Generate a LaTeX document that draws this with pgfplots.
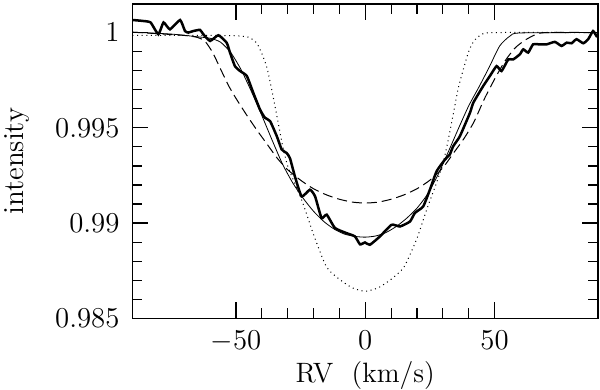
\documentclass[border=0pt]{standalone}
\usepackage{pgfplots}
\pgfplotsset{compat=1.18}
\begin{document}
\begin{tikzpicture}
\useasboundingbox (-66.25pt,-35.85pt) rectangle (233.75pt,159.15pt);
\begin{axis}[
  at={(0,0)}, anchor=south west,
  scale only axis, width=232.75pt, height=157.15pt,
  xmin=-90, xmax=90, ymin=0.985, ymax=1.0015,
  xtick={-50,0,50}, xticklabels={$-50$,$0$,$50$},
  ytick={0.985,0.99,0.995,1}, yticklabels={$0.985$,$0.99$,$0.995$,$1$},
  scaled y ticks=false,
  minor x tick num=4, minor y tick num=4,
  tick align=inside, tick pos=both,
  major tick length=8pt, minor tick length=5pt,
  axis line style={line width=0.6pt},
  every tick/.style={black, line width=0.6pt},
  tick label style={font=\fontsize{13.5}{15}\selectfont},
  yticklabel style={xshift=-3pt},
  xticklabel style={yshift=-3pt},
  xlabel={RV\ \ (km/s)}, ylabel={intensity},
  xlabel style={font=\fontsize{14}{16}\selectfont, at={(axis description cs:0.5,-0.1815)}, anchor=center},
  ylabel style={font=\fontsize{14.5}{16}\selectfont, at={(axis description cs:-0.2485,0.5)}, anchor=center},
  clip=true,
]
% dotted narrow model
\addplot[black, line width=0.5pt, dash pattern=on 0.5pt off 1.8pt, smooth, tension=0.4] coordinates {
(-90,0.99985) (-60,0.99985) (-50,0.99983) (-45,0.99975) (-42,0.99945) (-40,0.9989) (-38,0.99815)
(-36,0.9969) (-34,0.9955) (-32,0.9941) (-30,0.9930) (-27,0.9920) (-24,0.9910) (-20,0.9894)
(-15,0.9877) (-10,0.98705) (-5,0.98660) (0,0.98642) (5,0.98660) (10,0.98705) (15,0.9877)
(20,0.9892) (24,0.9908) (27,0.9919) (30,0.9931) (32,0.9943) (34,0.9957) (36,0.9971) (38,0.9981)
(40,0.9990) (42,0.99955) (45,0.99990) (50,1.0000) (90,1.0000)};
% dashed broad model
\addplot[black, line width=0.5pt, dash pattern=on 5pt off 2.5pt, smooth, tension=0.4] coordinates {
(-90,1.00002) (-80,0.99994) (-70,0.99985) (-65,0.99975) (-62,0.99955) (-59,0.99895) (-56,0.99810)
(-53,0.99725) (-50,0.99655) (-46,0.99570) (-42,0.99490) (-38,0.99415) (-34,0.99340) (-30,0.99280)
(-25,0.99225) (-20,0.99180) (-15,0.99148) (-10,0.99125) (-5,0.99110) (0,0.99105) (5,0.99110)
(10,0.99125) (15,0.99148) (20,0.99180) (25,0.99225) (30,0.99290) (34,0.99365) (38,0.99440)
(42,0.99530) (46,0.99650) (50,0.99755) (54,0.99850) (58,0.99920) (62,0.99962) (66,0.99990)
(70,1.0000) (90,1.0000)};
% thin solid fit
\addplot[black, line width=0.4pt, smooth, tension=0.4] coordinates {
(-90,1.00002) (-75,0.99992) (-65,0.99978) (-60,0.99970) (-56,0.99950) (-52,0.99895) (-48,0.99805)
(-44,0.99690) (-40,0.99565) (-36,0.99435) (-32,0.99310) (-28,0.99210) (-24,0.99130) (-20,0.99062)
(-16,0.99008) (-12,0.98968) (-8,0.98942) (-4,0.98930) (0,0.98926) (4,0.98932) (8,0.98950)
(12,0.98982) (16,0.99025) (20,0.99078) (24,0.99150) (28,0.99250) (32,0.99370) (36,0.99495)
(40,0.99615) (44,0.99715) (48,0.99820) (52,0.99930) (56,0.99982) (60,0.99998) (90,1.0000)};
% thick observed profile
\addplot[black, line width=1.25pt, smooth, tension=0.3] coordinates {
(-90,1.00066) (-86,1.00061) (-83,1.00053) (-80,0.99991) (-78,1.00053) (-75.5,1.00017)
(-71.6,1.00066) (-69.7,1.00008) (-68.4,1.0000) (-66.5,1.00008) (-63.9,1.00014) (-62.6,0.99991)
(-60,0.99956) (-56.8,0.99986) (-53.6,0.99947) (-52.3,0.99895) (-50.4,0.99824) (-48.4,0.99798)
(-45.8,0.99772) (-43.3,0.99684) (-40.7,0.99596) (-38.8,0.99553) (-36.8,0.99535) (-34.2,0.99456)
(-32.3,0.99386) (-30.4,0.99368) (-29.1,0.99340) (-27.2,0.99245) (-24.6,0.99140) (-21.4,0.99175)
(-19.4,0.99140) (-16.9,0.99026) (-14.9,0.99044) (-11.7,0.98974) (-7.2,0.98947) (-4,0.98930)
(-2,0.98888) (-0.1,0.98898) (1.8,0.98886) (5.7,0.98930) (10.2,0.98991) (13.4,0.98982)
(17.3,0.99008) (19.2,0.99053) (22.4,0.99087) (25,0.99175) (27.6,0.99272) (30.8,0.99333)
(32.7,0.99360) (34,0.99403) (36.6,0.99456) (40.5,0.99579) (41.8,0.99632) (45.6,0.99719)
(48.2,0.99772) (50.8,0.99824) (52.7,0.99798) (55.3,0.99859) (57.2,0.99859) (59.8,0.99886)
(61.1,0.99912) (63,0.99895) (64.9,0.99938) (67.5,0.99938) (70.1,0.99938) (73.3,0.99951)
(75.9,0.99930) (77.9,0.99947) (79.8,0.99944) (81.7,0.99965) (84.3,0.99944) (86.2,0.99965)
(88.1,1.00008) (89.4,0.99982) (90,0.99990)};
\end{axis}
\end{tikzpicture}
\end{document}
